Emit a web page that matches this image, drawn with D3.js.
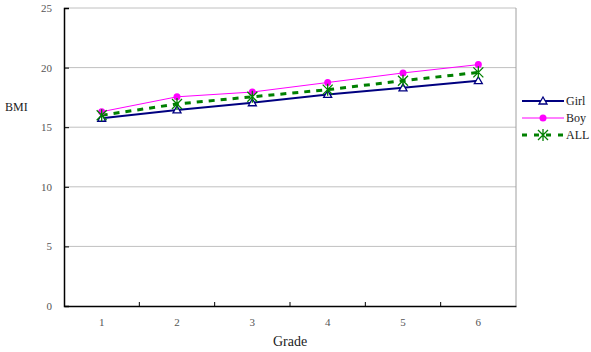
<!DOCTYPE html>
<html><head><meta charset="utf-8">
<script src="https://cdn.jsdelivr.net/npm/d3@7"></script>
<style>body{margin:0;background:#fff}svg{display:block}text{font-family:"Liberation Serif","Times New Roman",serif}</style>
</head><body><svg id="c" width="591" height="352"></svg>
<script>
const grades = ["1","2","3","4","5","6"];
const girl = [15.75, 16.45, 17.05, 17.75, 18.3, 18.9];
const boy  = [16.3, 17.55, 17.95, 18.75, 19.55, 20.25];
const all  = [16.0, 16.95, 17.55, 18.15, 18.9, 19.6];
const yTicks = [0,5,10,15,20,25];

const svg = d3.select("#c");
const L=64,R=516,T=8,B=306;
const x = d3.scaleBand().domain(grades).range([L,R]);
const y = d3.scaleLinear().domain([0,25]).range([B,T]);

// gridlines
svg.append("g").selectAll("line").data(yTicks.filter(d=>d>0)).join("line")
  .attr("x1",L).attr("x2",R).attr("y1",d=>y(d)).attr("y2",d=>y(d))
  .attr("stroke","#c0c0c0").attr("stroke-width",1);
// right border
svg.append("line").attr("x1",R).attr("x2",R).attr("y1",T).attr("y2",B).attr("stroke","#a0a0a0");

// y axis
const ya = svg.append("g").attr("transform",`translate(${L},0)`)
  .call(d3.axisLeft(y).tickValues(yTicks).tickSize(-5).tickPadding(12));
ya.select(".domain").attr("stroke","#000").attr("stroke-width",1.5);
ya.selectAll("line").attr("stroke","#000");
ya.selectAll("text").attr("font-size",11).attr("fill","#555").attr("font-family","Liberation Serif,serif");

// x axis
const xa = svg.append("g").attr("transform",`translate(0,${B})`)
  .call(d3.axisBottom(x).tickSize(0).tickPadding(12));
xa.select(".domain").attr("stroke","#000").attr("stroke-width",1.5);
xa.selectAll("text").attr("font-size",11).attr("fill","#555").attr("font-family","Liberation Serif,serif");
// category boundary ticks pointing up
svg.append("g").selectAll("line").data(grades.slice(1)).join("line")
  .attr("x1",d=>x(d)).attr("x2",d=>x(d)).attr("y1",B).attr("y2",B-4).attr("stroke","#000");

const cx = d => x(d)+x.bandwidth()/2;
const line = d3.line().x((d,i)=>cx(grades[i])).y(d=>y(d));

// ALL
svg.append("path").attr("d",line(all)).attr("fill","none").attr("stroke","#008000")
  .attr("stroke-width",3).attr("stroke-dasharray","6,6");
// Girl
svg.append("path").attr("d",line(girl)).attr("fill","none").attr("stroke","#000080").attr("stroke-width",2);
// Boy
svg.append("path").attr("d",line(boy)).attr("fill","none").attr("stroke","#ff00ff").attr("stroke-width",1);

function tri(g,px,py){ g.append("path").attr("d",`M${px},${py-4}L${px+4},${py+3}L${px-4},${py+3}Z`)
  .attr("fill","#fff").attr("stroke","#000080").attr("stroke-width",1.3); }
function dot(g,px,py){ g.append("circle").attr("cx",px).attr("cy",py).attr("r",3.5).attr("fill","#ff00ff"); }
function ast(g,px,py){ g.append("path").attr("d",`M${px-5},${py-5}L${px+5},${py+5}M${px+5},${py-5}L${px-5},${py+5}M${px},${py-6}L${px},${py+6}`)
  .attr("stroke","#008000").attr("stroke-width",1.3).attr("fill","none"); }

const mk = svg.append("g");
girl.forEach((v,i)=>tri(mk,cx(grades[i]),y(v)));
boy.forEach((v,i)=>dot(mk,cx(grades[i]),y(v)));
all.forEach((v,i)=>ast(mk,cx(grades[i]),y(v)));

// legend
const leg = svg.append("g");
const items=[["Girl",101],["Boy",118],["ALL",135]];
leg.append("line").attr("x1",522).attr("x2",564).attr("y1",101).attr("y2",101).attr("stroke","#000080").attr("stroke-width",2);
tri(leg,543,101);
leg.append("line").attr("x1",522).attr("x2",564).attr("y1",118).attr("y2",118).attr("stroke","#ff00ff").attr("stroke-width",1);
dot(leg,543,118);
leg.append("line").attr("x1",522).attr("x2",564).attr("y1",135).attr("y2",135).attr("stroke","#008000").attr("stroke-width",3).attr("stroke-dasharray","5,7");
ast(leg,543,135);
items.forEach(([t,yy])=>leg.append("text").attr("x",566).attr("y",yy+4).attr("font-size",12).attr("fill","#222").text(t));

svg.append("text").attr("x",5).attr("y",111).attr("font-size",12).attr("fill","#222").text("BMI");
svg.append("text").attr("x",290).attr("y",346).attr("text-anchor","middle").attr("font-size",14).attr("fill","#222").text("Grade");
</script></body></html>
